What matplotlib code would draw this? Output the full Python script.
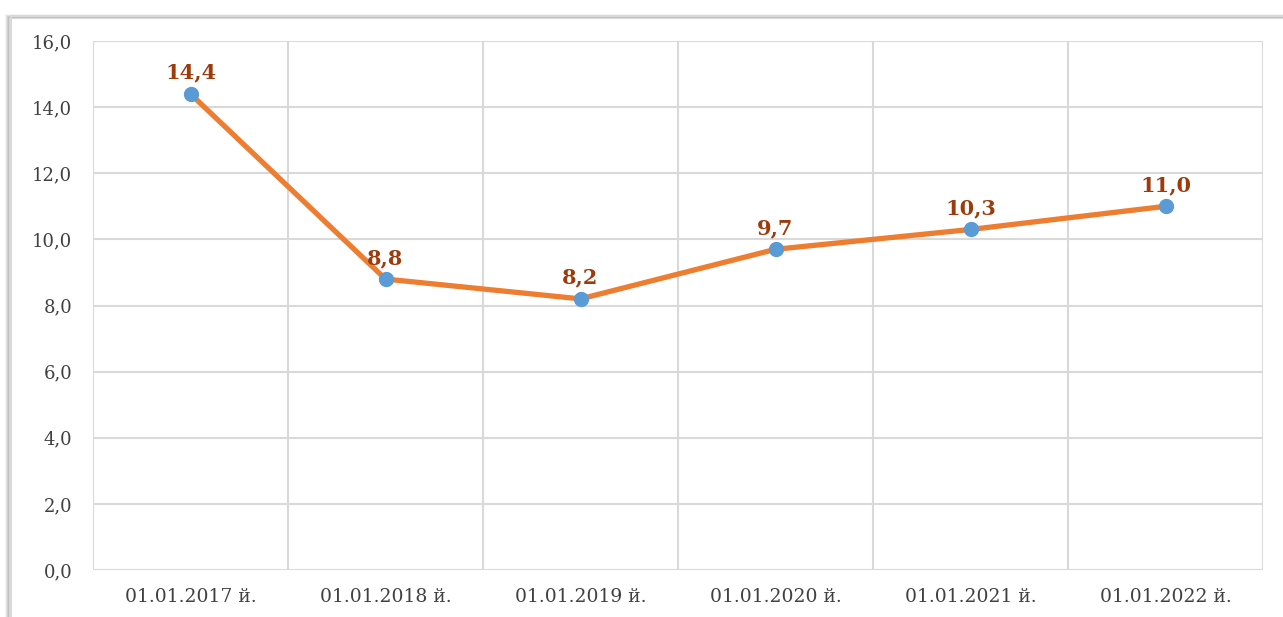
import matplotlib.pyplot as plt
from matplotlib.patches import Rectangle

dates = ['01.01.2017 й.', '01.01.2018 й.', '01.01.2019 й.',
         '01.01.2020 й.', '01.01.2021 й.', '01.01.2022 й.']
values = [14.4, 8.8, 8.2, 9.7, 10.3, 11.0]
y_ticks = [0, 2, 4, 6, 8, 10, 12, 14, 16]

plt.rcParams['font.family'] = ['DejaVu Serif']

fig = plt.figure(figsize=(12.83, 6.17), dpi=100)

# frame with a soft shadow on the left
for i, a in enumerate([0.04, 0.07, 0.11, 0.15]):
    fig.patches.append(Rectangle((6 + i, -5), 1300, 607 - i, transform=None,
                                 fill=False, edgecolor='black', alpha=a, lw=1.5))
fig.patches.append(Rectangle((11, -5), 1300, 606, transform=None,
                             fill=False, edgecolor='#d9d9d9', lw=1.5))

ax = fig.add_axes([93 / 1283, 47 / 617, 1170 / 1283, 529 / 617])
x = list(range(len(dates)))
ax.plot(x, values, color='#ed7d31', lw=3.8, solid_capstyle='round', zorder=3)
ax.plot(x, values, 'o', color='#5b9bd5', ms=10, zorder=4)

for xi, v in zip(x, values):
    ax.annotate(f'{v:.1f}'.replace('.', ','), (xi, v), xytext=(0, 8),
                textcoords='offset points', ha='center', va='bottom',
                fontsize=15, fontweight='bold', color='#9c3b0b')

ax.set_xlim(-0.5, len(dates) - 0.5)
ax.set_ylim(0, 16)
ax.set_yticks(y_ticks)
ax.set_yticklabels([f'{t:.1f}'.replace('.', ',') for t in y_ticks])
ax.set_xticks(x)
ax.set_xticklabels(dates)
ax.set_xticks([k + 0.5 for k in range(-1, len(dates))], minor=True)

ax.grid(True, axis='y', color='#d9d9d9', lw=1.5)
ax.grid(True, axis='x', which='minor', color='#d9d9d9', lw=1.5)
ax.grid(False, axis='x', which='major')
ax.tick_params(axis='both', which='both', length=0, labelcolor='#404040')
ax.tick_params(axis='y', pad=15, labelsize=13)
ax.tick_params(axis='x', pad=13, labelsize=13.5)
for s in ax.spines.values():
    s.set_visible(False)

fig.savefig('out.png', dpi=100)
